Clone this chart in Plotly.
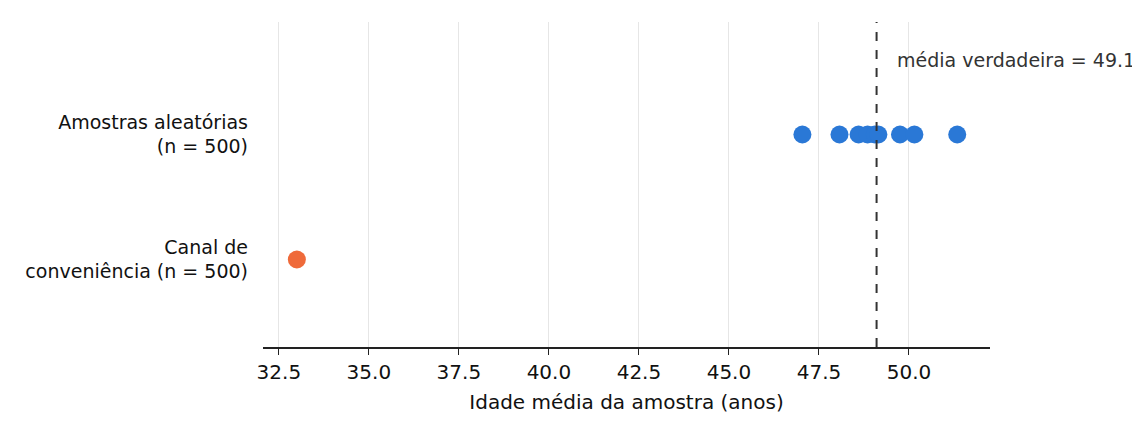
import plotly.graph_objects as go

# sample means (years)
categorias = ["Canal de<br>conveniência (n = 500)", "Amostras aleatórias<br>(n = 500)"]
medias_aleatorias = [47.04, 48.07, 48.6, 48.85, 49.05, 49.15, 49.75, 50.15, 51.34]
media_conveniencia = [33.0]
media_verdadeira = 49.1

fig = go.Figure()
fig.add_trace(go.Scatter(
    x=medias_aleatorias, y=[categorias[1]] * len(medias_aleatorias),
    mode="markers", marker=dict(size=18, color="#2a78d6"),
    showlegend=False,
))
fig.add_trace(go.Scatter(
    x=media_conveniencia, y=[categorias[0]] * len(media_conveniencia),
    mode="markers", marker=dict(size=18, color="#ef6a3a"),
    showlegend=False,
))

fig.add_vline(x=media_verdadeira, line=dict(color="#333333", width=2, dash="dash"))
fig.add_annotation(x=media_verdadeira + 0.5, y=1.6, text=f"média verdadeira = {media_verdadeira}",
                   showarrow=False, xanchor="left", yanchor="middle",
                   font=dict(size=19, color="#333333"))

fig.update_xaxes(range=[32.06, 52.25], dtick=2.5, tick0=32.5, tickformat=".1f",
                 showgrid=True, gridcolor="#e6e6e6", gridwidth=1,
                 showline=True, linecolor="#222222", linewidth=1.5,
                 ticks="outside", ticklen=6, tickcolor="#222222", zeroline=False,
                 title=dict(text="Idade média da amostra (anos)", standoff=12,
                            font=dict(size=20)),
                 tickfont=dict(size=20))
fig.update_yaxes(categoryorder="array", categoryarray=categorias, range=[-0.7, 1.9],
                 showgrid=False, zeroline=False, showline=False, ticks="",
                 ticklabelstandoff=14, tickfont=dict(size=19))

fig.update_layout(
    width=1140, height=435,
    margin=dict(l=255, r=158, t=14, b=96),
    plot_bgcolor="white", paper_bgcolor="white",
    font=dict(family="DejaVu Sans", size=18, color="#111111"),
)
fig.write_html("out.html")
